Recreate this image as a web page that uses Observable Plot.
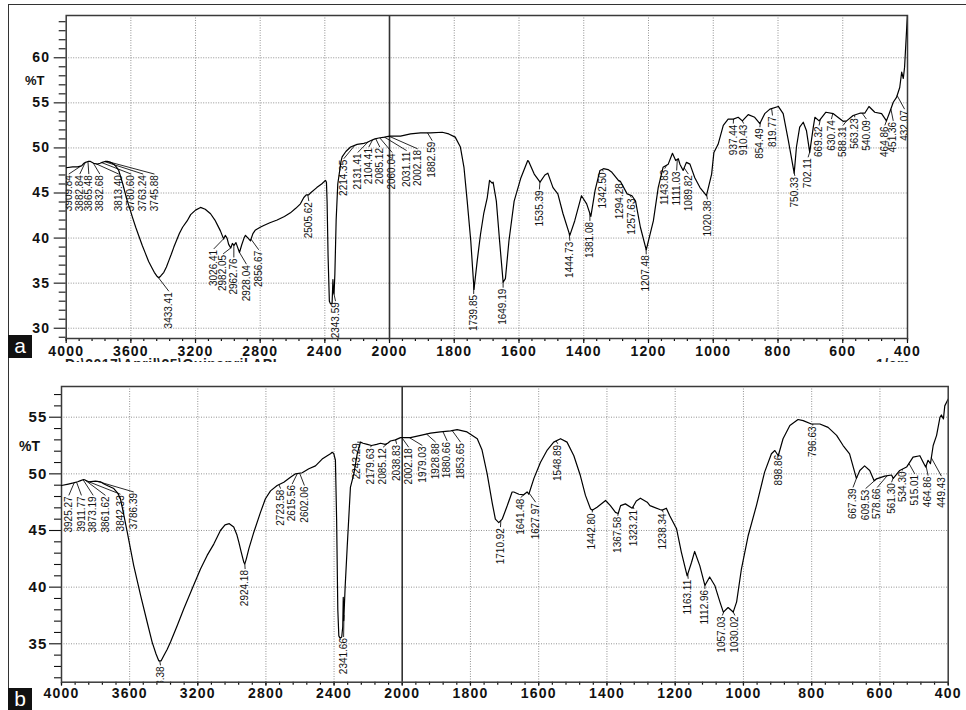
<!DOCTYPE html>
<html><head><meta charset="utf-8">
<script src="https://cdn.jsdelivr.net/npm/d3@7"></script>
<script src="https://cdn.jsdelivr.net/npm/@observablehq/plot@0.6"></script>
<style>
body{margin:0;background:#fff;}
#wrap{position:relative;width:966px;height:710px;overflow:hidden;background:#fff;font-family:"Liberation Sans",Arial,sans-serif;}
.panel{position:absolute;left:0;}
#pa{top:0;}
#pb{top:362px;background:#fff;}
.border{position:absolute;left:8px;top:4px;width:970px;height:720px;border-top:1.5px solid #333;border-left:1.5px solid #333;pointer-events:none;}
.tag{position:absolute;left:8px;width:24px;background:#111;color:#fff;font-size:21px;text-align:center;}
.ylab{position:absolute;font-weight:bold;font-size:13px;color:#111;}
.note{position:absolute;font-weight:bold;font-size:14px;line-height:14px;color:#222;white-space:nowrap;letter-spacing:0.5px;}
svg g[aria-label="x-axis tick label"] text, svg g[aria-label="y-axis tick label"] text{letter-spacing:1.2px}
</style>
</head><body>
<div id="wrap">
  <div id="pa" class="panel"></div>
  <div class="ylab" style="left:25px;top:73px;">%T</div>
  <div class="note" style="left:65px;top:357px;">D:\2017\April\25\Quinapril API</div>
  <div class="note" style="left:876px;top:357px;">1/cm</div>
  <div id="pb" class="panel"></div>
  <div class="ylab" style="left:19px;top:438px;font-size:14px;">%T</div>
  <div class="border"></div>
  <div class="tag" style="top:335px;height:23px;line-height:22px;">a</div>
  <div class="tag" style="top:688px;height:22px;line-height:21px;">b</div>
</div>
<script>
// ---- data: panel a spectrum [wavenumber 1/cm, %T]
const spectrumA = [[4000,47.8],[3960,47.9],[3930,47.9],[3905,48.0],[3890,48.3],[3880,48.4],[3865,48.5],[3850,48.5],[3830,48.3],[3808,48.2],[3790,48.3],[3777,48.4],[3760,48.5],[3746,48.5],[3725,48.4],[3706,48.2],[3690,47.9],[3675,47.5],[3650,46.0],[3625,44.3],[3607,43.3],[3590,42.3],[3570,41.2],[3550,40.2],[3530,39.2],[3510,38.3],[3490,37.4],[3470,36.7],[3455,36.2],[3440,35.8],[3427,35.6],[3415,35.8],[3396,36.2],[3380,36.8],[3365,37.5],[3350,38.2],[3334,39.0],[3300,40.5],[3280,41.2],[3252,41.9],[3230,42.6],[3200,43.1],[3169,43.4],[3140,43.2],[3107,42.7],[3080,42.0],[3060,41.3],[3046,40.8],[3035,40.3],[3026,39.9],[3016,40.3],[3005,40.0],[2995,39.3],[2982,38.9],[2972,39.4],[2962,39.2],[2950,39.5],[2940,39.0],[2928,38.4],[2915,39.2],[2900,40.0],[2891,40.3],[2875,40.0],[2860,39.7],[2845,40.5],[2829,40.9],[2800,41.2],[2778,41.4],[2740,41.7],[2695,42.0],[2650,42.4],[2613,42.8],[2580,43.3],[2551,43.8],[2530,44.5],[2515,44.8],[2500,44.8],[2489,45.0],[2450,45.6],[2420,46.0],[2396,46.4],[2390,46.2],[2386,44.0],[2380,38.0],[2372,33.0],[2365,32.7],[2355,32.8],[2350,35.4],[2347,34.0],[2343,33.8],[2338,36.0],[2330,42.0],[2320,46.0],[2300,48.5],[2293,49.0],[2270,49.6],[2241,50.1],[2200,50.4],[2159,50.5],[2140,50.6],[2118,50.8],[2090,51.0],[2066,51.1],[2030,51.2],[2000,51.3],[1966,51.3],[1935,51.55],[1904,51.67],[1873,51.67],[1837,51.74],[1817,51.55],[1797,51.2],[1781,50.1],[1770,47.85],[1760,44.1],[1749,39.7],[1739,34.3],[1729,37.5],[1719,40.4],[1709,42.7],[1698,44.5],[1691,46.4],[1683,46.1],[1680,46.2],[1670,44.1],[1660,39.7],[1649,35.1],[1642,35.5],[1631,39.7],[1615,44.1],[1594,46.7],[1573,48.6],[1570,48.5],[1553,47.1],[1535,46.2],[1520,47.0],[1511,47.2],[1495,45.6],[1480,44.9],[1464,42.7],[1443,40.3],[1428,41.9],[1407,44.7],[1391,43.8],[1378,42.4],[1365,45.3],[1350,47.5],[1339,47.7],[1325,47.6],[1313,47.3],[1293,46.4],[1287,46.3],[1266,44.9],[1251,44.7],[1240,44.1],[1225,41.2],[1207,38.7],[1185,41.9],[1170,45.6],[1155,47.85],[1139,48.2],[1126,49.4],[1116,48.6],[1108,48.8],[1103,48.2],[1093,47.5],[1083,48.4],[1072,48.2],[1057,46.7],[1041,45.6],[1021,44.7],[1005,47.1],[998,49.5],[985,50.4],[969,52.5],[954,53.2],[938,53.2],[923,53.4],[910,53.0],[892,53.7],[872,53.4],[856,52.7],[841,53.8],[825,54.3],[799,54.6],[784,53.8],[768,50.8],[750,47.2],[743,50.1],[733,52.3],[722,52.85],[712,51.9],[702,49.5],[691,52.3],[686,53.4],[673,53.0],[652,53.96],[629,53.8],[599,52.95],[588,53.0],[568,53.6],[547,53.85],[532,53.85],[519,54.6],[501,53.96],[480,53.8],[465,53.0],[455,53.96],[444,55.07],[434,55.6],[424,56.7],[418,58.4],[413,57.7],[409,58.96],[404,62.3],[400,64.9]];

// ---- data: panel b spectrum [wavenumber 1/cm, %T]
const spectrumB = [[4000,48.97],[3960,49.1],[3930,49.2],[3905,49.3],[3888,49.4],[3869,49.5],[3840,49.3],[3800,49.35],[3771,49.3],[3750,49.1],[3732,48.97],[3693,48.7],[3670,48.3],[3654,47.8],[3640,46.8],[3614,44.85],[3576,41.9],[3536,39.3],[3497,36.9],[3468,35.15],[3445,34.1],[3429,33.5],[3415,33.5],[3399,33.97],[3380,34.5],[3360,35.15],[3321,36.6],[3282,38.1],[3233,39.85],[3184,41.6],[3145,42.8],[3106,43.8],[3067,45.0],[3040,45.5],[3015,45.6],[2989,45.3],[2970,44.6],[2959,43.97],[2945,43.1],[2930,42.2],[2924,42.05],[2915,42.5],[2900,43.4],[2871,44.85],[2832,46.6],[2803,47.8],[2773,48.5],[2734,48.97],[2695,49.26],[2656,49.7],[2626,50.0],[2587,50.1],[2548,50.45],[2509,50.7],[2470,51.3],[2440,51.6],[2421,51.77],[2411,51.9],[2402,51.8],[2392,51.2],[2385,46.0],[2378,38.0],[2372,35.7],[2365,35.5],[2355,35.6],[2349,36.5],[2346,39.1],[2343,37.05],[2335,40.0],[2323,43.5],[2304,48.8],[2284,50.0],[2264,51.77],[2245,52.8],[2230,52.7],[2205,52.6],[2180,52.5],[2150,52.6],[2127,52.7],[2100,52.6],[2085,52.7],[2069,52.9],[2040,53.0],[2010,53.2],[2000,53.2],[1976,53.2],[1946,53.4],[1917,53.6],[1888,53.7],[1858,53.8],[1839,53.9],[1810,53.7],[1780,53.1],[1766,52.1],[1751,50.0],[1736,47.4],[1727,46.0],[1717,45.7],[1707,46.0],[1692,47.2],[1678,48.4],[1673,48.4],[1658,48.2],[1644,48.15],[1634,48.4],[1629,48.2],[1614,49.6],[1595,51.0],[1575,52.1],[1556,52.8],[1536,53.1],[1517,52.8],[1497,51.6],[1478,49.85],[1463,48.1],[1448,46.9],[1442,46.8],[1429,47.06],[1404,47.65],[1390,47.2],[1375,46.6],[1367,46.5],[1360,47.2],[1346,47.35],[1326,46.97],[1314,47.6],[1302,47.85],[1282,47.5],[1274,47.2],[1245,46.85],[1238,46.8],[1226,46.97],[1216,46.3],[1196,45.15],[1182,43.1],[1165,41.0],[1152,42.2],[1143,43.15],[1128,41.9],[1113,40.15],[1099,40.9],[1084,40.15],[1069,38.7],[1059,37.8],[1045,38.2],[1030,37.8],[1020,38.7],[1006,41.6],[986,44.56],[962,47.2],[938,50.15],[918,51.77],[908,52.06],[898,51.6],[884,53.1],[864,54.27],[840,54.8],[825,54.7],[801,54.4],[776,54.4],[752,54.1],[727,53.4],[708,52.5],[689,51.77],[669,49.6],[659,50.3],[645,50.7],[630,50.3],[617,49.4],[610,49.56],[586,49.8],[566,49.9],[561,49.6],[542,50.3],[522,50.6],[503,51.47],[483,51.6],[473,51.0],[466,50.6],[459,51.2],[452,50.9],[444,52.5],[434,53.4],[424,55.0],[420,55.2],[414,54.85],[410,56.0],[400,56.6]];

// ---- peak labels: [peak wavenumber, wavenumber where label stands, %T at label top]
const peaksA = [[3909.84,3984,47.1],[3882.84,3916,47.1],[3865.48,3860,47.1],[3832.68,3792,47.1],[3813.40,3675,47.1],[3780.60,3598,47.1],[3763.24,3524,47.1],[3745.88,3454,47.1],[3433.41,3365,34.1],[3026.41,3087,38.8],[2982.05,3029,38.25],[2962.76,2963,37.85],[2928.04,2885,37.1],[2856.67,2809,38.7],[2505.62,2499,44.1],[2343.59,2334,33.0],[2214.35,2283,48.8],[2131.41,2196,49.5],[2104.41,2128,50.1],[2085.12,2060,50.1],[2060.04,1992,49.5],[2031.11,1947,49.7],[2002.18,1913,49.9],[1882.59,1868,50.8],[1739.85,1740,33.8],[1649.19,1649,34.5],[1535.39,1537,45.4],[1444.73,1443,39.7],[1381.08,1381,41.9],[1342.50,1340,47.4],[1294.28,1289,46.2],[1257.63,1253,44.5],[1207.48,1207,38.2],[1143.83,1150,47.7],[1111.03,1113,47.5],[1089.82,1077,47.1],[1020.38,1018,44.3],[937.44,938,52.7],[910.43,906,52.7],[854.49,856,52.3],[819.77,817,53.6],[750.33,748,46.9],[702.11,707,48.96],[669.32,673,52.5],[630.74,635,53.2],[588.31,599,52.5],[563.23,563,53.4],[540.09,527,53.2],[464.86,470,52.5],[451.36,444,53.0],[432.07,409,54.3]];
const peaksB = [[3925.27,3957,48.1],[3911.77,3883,48.1],[3873.19,3814,48.1],[3861.62,3742,48.1],[3842.33,3654,48.2],[3786.39,3576,48.4],[3423.38,3419,33.1],[2924.18,2922,41.6],[2723.58,2714,48.7],[2615.56,2646,49.1],[2602.06,2574,48.97],[2341.66,2344,35.6],[2243.29,2264,52.8],[2179.63,2186,52.35],[2085.12,2112,52.35],[2038.83,2033,52.65],[2002.18,1981,52.35],[1979.03,1941,52.5],[1928.88,1902,52.8],[1880.66,1868,52.9],[1853.65,1829,52.8],[1710.92,1712,45.3],[1641.48,1653,47.9],[1627.97,1609,47.5],[1548.89,1544,52.65],[1442.80,1443,46.6],[1367.58,1368,46.3],[1323.21,1321,46.9],[1238.34,1235,46.6],[1163.11,1162,40.74],[1112.96,1113,39.85],[1057.03,1062,37.5],[1030.02,1025,37.5],[898.86,895,51.77],[796.63,797,54.27],[667.39,679,48.8],[609.53,642,48.7],[578.66,608,48.8],[561.30,566,49.26],[534.30,534,50.3],[515.01,498,50.0],[464.86,459,49.85],[449.43,420,49.8]];

// ---- axes
const xTicks = [4000,3600,3200,2800,2400,2000,1800,1600,1400,1200,1000,800,600,400];
const xGrid = [3600,3200,2800,2400,1800,1600,1400,1200,1000,800,600];
const yTicksA = [30,35,40,45,50,55,60];
const yTicksB = [35,40,45,50,55];

const xMinor = d3.range(4000, 2000, -80).concat(d3.range(2000, 399, -40));

function interp(spec, w) {
  for (let i = 0; i < spec.length - 1; i++) {
    const [w0, t0] = spec[i], [w1, t1] = spec[i + 1];
    if (w0 >= w && w >= w1) return t0 + (w0 - w) / (w0 - w1) * (t1 - t0);
  }
  return spec[spec.length - 1][1];
}

function panel(o) {
  const spec = o.spec.map(([w, t]) => ({w, t}));
  const labels = o.peaks.map(([p, lx, ly]) => ({p, lx, ly, cy: interp(o.spec, p), s: p.toFixed(2)}));
  const yMinor = d3.range(Math.ceil(o.yDomain[0]), Math.floor(o.yDomain[1]) + 1).filter(v => !o.yTicks.includes(v));
  return Plot.plot({
    width: 966, height: o.height,
    marginTop: o.mt, marginBottom: o.mb, marginLeft: o.xRange[0], marginRight: 966 - o.xRange[2],
    style: {background: "#fff", fontFamily: "'Liberation Sans', Arial, sans-serif", color: "#111", overflow: "visible"},
    x: {type: "linear", domain: [4000, 2000, 400], range: o.xRange, label: null},
    y: {type: "linear", domain: o.yDomain, label: null},
    marks: [
      Plot.gridX(xGrid, {stroke: "#777", strokeOpacity: 1, strokeWidth: 0.8, strokeDasharray: "1,1.5"}),
      Plot.gridY(o.yTicks, {stroke: "#777", strokeOpacity: 1, strokeWidth: 0.8, strokeDasharray: "1,1.5"}),
      Plot.ruleX([2000], {stroke: "#333", strokeWidth: 1.6}),
      Plot.axisX(xMinor, {tickSize: 3, tickFormat: () => "", label: null, strokeWidth: 1.2}),
      Plot.axisX(xTicks, {tickSize: o.xTickSize, tickPadding: o.xPad, tickFormat: d => String(d), fontSize: 14, fontWeight: "bold", label: null, strokeWidth: 1.2}),
      Plot.axisY(yMinor, {tickSize: 7, tickFormat: () => "", label: null, strokeWidth: 1.1}),
      Plot.axisY(o.yTicks, {tickSize: o.yTickSize, tickPadding: o.yPad, fontSize: o.yFont, fontWeight: "bold", label: null, strokeWidth: 1.1}),
      Plot.frame({stroke: "#3a3a3a", strokeWidth: 1.5}),
      Plot.link(labels, {x1: "p", y1: "cy", x2: "lx", y2: "ly", stroke: "#111", strokeWidth: 0.9, curve: "linear", clip: "frame"}),
      Plot.text(labels, {x: "lx", y: "ly", text: "s", rotate: -90, textAnchor: "end", lineAnchor: "middle", fontSize: 10, dy: 1, fill: "#111", clip: "frame"}),
      Plot.line(spec, {x: "w", y: "t", stroke: "#000", strokeWidth: 1.2, clip: "frame"})
    ]
  });
}

document.getElementById("pa").append(panel({
  spec: spectrumA, peaks: peaksA, height: 362, mt: 15, mb: 24,
  xRange: [65.7, 389, 907], yDomain: [28.86, 64.69], yTicks: yTicksA,
  xTickSize: 5, xPad: 3, yTickSize: 12, yPad: 4, yFont: 14
}));
document.getElementById("pb").append(panel({
  spec: spectrumB, peaks: peaksB, height: 348, mt: 24, mb: 28.3,
  xRange: [61, 401.7, 947.7], yDomain: [31.61, 57.71], yTicks: yTicksB,
  xTickSize: 4, xPad: 2, yTickSize: 12, yPad: 2, yFont: 15
}));
</script>
</body></html>
